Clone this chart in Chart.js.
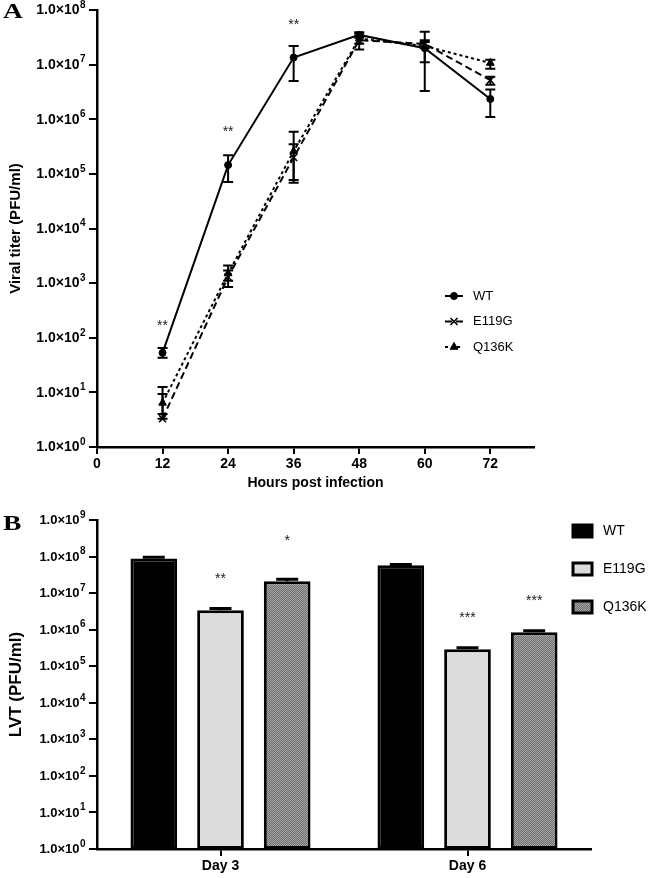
<!DOCTYPE html>
<html>
<head>
<meta charset="utf-8">
<script src="https://cdn.jsdelivr.net/npm/chart.js@4.4.1/dist/chart.umd.min.js"></script>
<style>
  html, body { margin: 0; padding: 0; background: #fff; }
  #wrap { position: relative; width: 650px; height: 878px; overflow: hidden; }
  #chartA { position: absolute; left: 0; top: 0; }
  #chartB { position: absolute; left: 0; top: 495px; }
  .panel {
    position: absolute; left: 3px;
    font: bold 22px "Liberation Serif", "Times New Roman", serif;
    line-height: 22px; transform: scaleX(1.25); transform-origin: left top;
  }
</style>
</head>
<body>
<div id="wrap">
  <canvas id="chartA" width="650" height="497"></canvas>
  <canvas id="chartB" width="650" height="383"></canvas>
  <div class="panel" style="top:0px">A</div>
  <div class="panel" style="top:512px">B</div>
</div>
<script>
// ---------- Panel A: growth curves ----------
const hours      = [12, 24, 36, 48, 60, 72];
const hourTicks  = [0, 12, 24, 36, 48, 60, 72];
const titerTicks = [1e0, 1e1, 1e2, 1e3, 1e4, 1e5, 1e6, 1e7, 1e8];

const wtTiter    = [53, 1.45e5, 1.35e7, 3.5e7, 2.0e7, 2.35e6];
const wtLow      = [43, 7.1e4, 5.0e6, 3.1e7, 1.1e7, 1.1e6];
const wtHigh     = [65, 2.2e5, 2.2e7, 3.9e7, 2.6e7, 3.5e6];

const e119gTiter = [3.3, 1.3e3, 2.0e5, 2.8e7, 2.4e7, 5.2e6];
const e119gLow   = [3.3, 8.5e2, 7.7e4, 2.4e7, 2.0e7, 4.3e6];
const e119gHigh  = [9.3, 1.7e3, 3.5e5, 3.3e7, 2.8e7, 6.0e6];

const q136kTiter = [6.4, 1.5e3, 2.6e5, 3.0e7, 2.2e7, 1.07e7];
const q136kLow   = [4.0, 1.1e3, 6.9e4, 1.9e7, 3.3e6, 8.4e6];
const q136kHigh  = [12.6, 2.1e3, 5.9e5, 3.7e7, 4.0e7, 1.23e7];

// significance marks (hour, titer where the mark sits)
const starHoursA = [12, 24, 36];
const starTiterA = [195, 6.9e5, 6.3e7];
const starTextA  = ['**', '**', '**'];

// ---------- Panel B: lung virus titer ----------
const days       = ['Day 3', 'Day 6'];
const lvtTicks   = [1e0, 1e1, 1e2, 1e3, 1e4, 1e5, 1e6, 1e7, 1e8, 1e9];
const lvtWT      = [8.9e7, 5.8e7];
const lvtE119G   = [3.4e6, 2.9e5];
const lvtQ136K   = [2.1e7, 8.5e5];
const lvtWTHigh    = [9.6e7, 6.1e7];
const lvtE119GHigh = [3.8e6, 3.2e5];
const lvtQ136KHigh = [2.4e7, 9.3e5];
const starTextB  = [[null, null], ['**', '***'], ['*', '***']];
const starLvtB   = [[null, null], [3.1e7, 2.6e6], [3.5e8, 7.7e6]];

const FONT = '"Liberation Sans", Arial, Helvetica, sans-serif';
Chart.defaults.font.family = FONT;
Chart.defaults.color = '#000';

// grey "dotted" fill of the Q136K bars
function makeDotPattern() {
  const c = document.createElement('canvas');
  c.width = 2; c.height = 2;
  const g = c.getContext('2d');
  g.fillStyle = '#a6a6a6'; g.fillRect(0, 0, 2, 2);
  g.fillStyle = '#6e6e6e'; g.fillRect(0, 0, 1, 1); g.fillRect(1, 1, 1, 1);
  return g.createPattern(c, 'repeat');
}

// "1.0×10^n" labels for log axes
function powerLabels(size) {
  return {
    id: 'powerLabels',
    afterDraw(chart) {
      const ctx = chart.ctx, sc = chart.scales.y;
      const xr = sc.right - 17.5;
      ctx.save();
      ctx.fillStyle = '#000';
      sc.ticks.forEach(t => {
        const y = sc.getPixelForValue(t.value);
        const p = Math.round(Math.log10(t.value));
        ctx.font = 'bold ' + size + 'px ' + FONT;
        ctx.textAlign = 'right';
        ctx.textBaseline = 'middle';
        ctx.fillText('1.0×10', xr, y + 0.5);
        ctx.font = 'bold 10px ' + FONT;
        ctx.textAlign = 'left';
        ctx.fillText(String(p), xr + 0.5, y - 5);
      });
      ctx.restore();
    }
  };
}

function drawStar(ctx, text, x, y) {
  ctx.font = '14px ' + FONT;
  ctx.fillStyle = '#222';
  ctx.textAlign = 'center';
  ctx.textBaseline = 'alphabetic';
  ctx.fillText(text, x, y + 8);
}

function errorCap(ctx, x, y1, y2, half) {
  ctx.beginPath();
  ctx.moveTo(x, y1); ctx.lineTo(x, y2);
  ctx.moveTo(x - half, y1); ctx.lineTo(x + half, y1);
  ctx.moveTo(x - half, y2); ctx.lineTo(x + half, y2);
  ctx.stroke();
}

// ---------- chart A ----------
const lowA  = [wtLow, e119gLow, q136kLow];
const highA = [wtHigh, e119gHigh, q136kHigh];

const extrasA = {
  id: 'extrasA',
  afterDatasetsDraw(chart) {
    const ctx = chart.ctx, xs = chart.scales.x, ys = chart.scales.y;
    ctx.save();
    ctx.strokeStyle = '#000';
    ctx.lineWidth = 2;
    ctx.setLineDash([]);
    lowA.forEach((low, i) => {
      hours.forEach((h, j) => {
        const x = xs.getPixelForValue(h);
        errorCap(ctx, x, ys.getPixelForValue(highA[i][j]), ys.getPixelForValue(low[j]), 5);
      });
    });
    starHoursA.forEach((h, k) => {
      drawStar(ctx, starTextA[k], xs.getPixelForValue(h), ys.getPixelForValue(starTiterA[k]));
    });
    // legend
    chart.data.datasets.forEach((ds, i) => {
      const y = 296 + i * 25.5;
      ctx.strokeStyle = '#000';
      ctx.fillStyle = '#000';
      ctx.lineWidth = 2;
      ctx.setLineDash(ds.borderDash || []);
      ctx.beginPath(); ctx.moveTo(445, y); ctx.lineTo(463, y); ctx.stroke();
      ctx.setLineDash([]);
      ctx.lineWidth = ds.pointBorderWidth;
      Chart.helpers.drawPoint(ctx, {
        pointStyle: ds.pointStyle, radius: ds.pointRadius,
        rotation: 0, borderWidth: ds.pointBorderWidth
      }, 454, y);
      ctx.font = '13px ' + FONT;
      ctx.textAlign = 'left';
      ctx.textBaseline = 'middle';
      ctx.fillText(ds.label, 473, y);
    });
    ctx.restore();
  }
};

const lineSet = (label, values, extra) => Object.assign({
  label,
  data: hours.map((h, i) => ({ x: h, y: values[i] })),
  borderColor: '#000',
  backgroundColor: '#000',
  borderWidth: 2,
  tension: 0,
  pointBackgroundColor: '#000',
  pointBorderColor: '#000',
  pointBorderWidth: 1
}, extra);

new Chart(document.getElementById('chartA'), {
  type: 'line',
  data: {
    datasets: [
      lineSet('WT', wtTiter, { pointStyle: 'circle', pointRadius: 3.5 }),
      lineSet('E119G', e119gTiter, { borderDash: [7, 4], pointStyle: 'crossRot', pointRadius: 5, pointBorderWidth: 1.5 }),
      lineSet('Q136K', q136kTiter, { borderDash: [3, 3], pointStyle: 'triangle', pointRadius: 4.5 })
    ]
  },
  options: {
    responsive: false,
    animation: false,
    layout: { padding: { left: 0, right: 116, top: 10, bottom: 0 } },
    plugins: { legend: { display: false }, tooltip: { enabled: false } },
    scales: {
      x: {
        type: 'linear', min: 0, max: 80,
        afterBuildTicks: s => { s.ticks = hourTicks.map(v => ({ value: v })); },
        afterFit: s => { s.height = 50; },
        border: { color: '#000', width: 2.5 },
        grid: { drawOnChartArea: false, drawTicks: true, tickLength: 7, color: '#000', lineWidth: 2 },
        ticks: { color: '#000', font: { size: 14, weight: 'bold' }, padding: 2, maxRotation: 0 },
        title: { display: true, text: 'Hours post infection', color: '#000',
                 font: { size: 14, weight: 'bold' }, padding: { top: 0, bottom: 5 } }
      },
      y: {
        type: 'logarithmic', min: 1, max: 1e8,
        afterBuildTicks: s => { s.ticks = titerTicks.map(v => ({ value: v })); },
        afterFit: s => { s.width = 97; },
        border: { color: '#000', width: 2.5 },
        grid: { drawOnChartArea: false, drawTicks: true, tickLength: 8, color: '#000', lineWidth: 2 },
        ticks: { display: false },
        title: { display: true, text: 'Viral titer (PFU/ml)', color: '#000',
                 font: { size: 15, weight: 'bold' }, padding: { top: 7, bottom: 0 } }
      }
    }
  },
  plugins: [powerLabels(14), extrasA]
});

// ---------- chart B ----------
const highB = [lvtWTHigh, lvtE119GHigh, lvtQ136KHigh];

const extrasB = {
  id: 'extrasB',
  afterDatasetsDraw(chart) {
    const ctx = chart.ctx, ys = chart.scales.y;
    ctx.save();
    ctx.strokeStyle = '#000';
    ctx.lineWidth = 3;
    chart.data.datasets.forEach((ds, i) => {
      chart.getDatasetMeta(i).data.forEach((bar, j) => {
        const yTop = ys.getPixelForValue(ds.data[j]);
        const yHi = ys.getPixelForValue(highB[i][j]);
        ctx.beginPath();
        ctx.moveTo(bar.x, yTop); ctx.lineTo(bar.x, yHi);
        ctx.moveTo(bar.x - 11, yHi); ctx.lineTo(bar.x + 11, yHi);
        ctx.stroke();
        if (starTextB[i][j]) drawStar(ctx, starTextB[i][j], bar.x, ys.getPixelForValue(starLvtB[i][j]));
      });
    });
    // legend
    chart.data.datasets.forEach((ds, i) => {
      const y = 36 + i * 38;
      ctx.fillStyle = ds.backgroundColor;
      ctx.fillRect(573, y - 6, 19, 12);
      ctx.strokeStyle = '#000';
      ctx.lineWidth = 3;
      ctx.strokeRect(573, y - 6, 19, 12);
      ctx.fillStyle = '#000';
      ctx.font = '14px ' + FONT;
      ctx.textAlign = 'left';
      ctx.textBaseline = 'middle';
      ctx.fillText(ds.label, 603, y);
    });
    ctx.restore();
  }
};

const barSet = (label, values, fill) => ({
  label, data: values,
  backgroundColor: fill,
  borderColor: '#000',
  borderWidth: 3,
  borderSkipped: false,
  categoryPercentage: 0.81,
  barPercentage: 0.7
});

new Chart(document.getElementById('chartB'), {
  type: 'bar',
  data: {
    labels: days,
    datasets: [
      barSet('WT', lvtWT, '#000'),
      barSet('E119G', lvtE119G, '#dcdcdc'),
      barSet('Q136K', lvtQ136K, makeDotPattern())
    ]
  },
  options: {
    responsive: false,
    animation: false,
    layout: { padding: { left: 0, right: 59, top: 25, bottom: 0 } },
    plugins: { legend: { display: false }, tooltip: { enabled: false } },
    scales: {
      x: {
        type: 'category', offset: true,
        afterFit: s => { s.height = 29; },
        border: { color: '#000', width: 2.5 },
        grid: { offset: false, drawOnChartArea: false, drawTicks: true, tickLength: 7, color: '#000', lineWidth: 2 },
        ticks: { color: '#000', font: { size: 14, weight: 'bold' }, padding: 2, maxRotation: 0 }
      },
      y: {
        type: 'logarithmic', min: 1, max: 1e9,
        afterBuildTicks: s => { s.ticks = lvtTicks.map(v => ({ value: v })); },
        afterFit: s => { s.width = 97; },
        border: { color: '#000', width: 2.5 },
        grid: { drawOnChartArea: false, drawTicks: true, tickLength: 8, color: '#000', lineWidth: 2 },
        ticks: { display: false },
        title: { display: true, text: 'LVT (PFU/ml)', color: '#000',
                 font: { size: 17, weight: 'bold' }, padding: { top: 6, bottom: 0 } }
      }
    }
  },
  plugins: [powerLabels(13), extrasB]
});
</script>
</body>
</html>
